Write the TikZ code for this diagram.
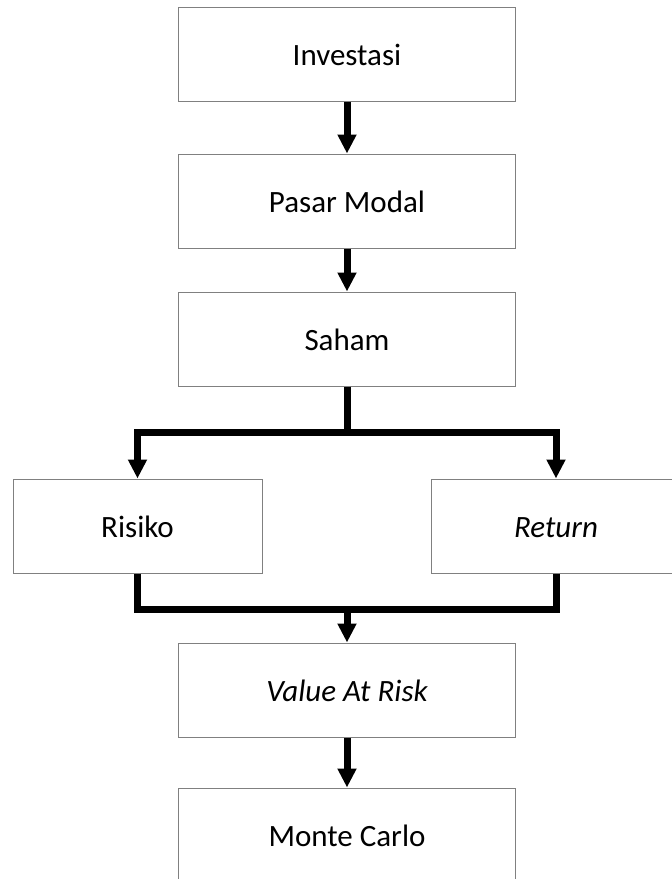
\documentclass[tikz,border=0pt]{standalone}
\usepackage{fontspec}
\setmainfont{Carlito}
\usetikzlibrary{arrows.meta,positioning}

\begin{document}
\begin{tikzpicture}[x=0.5pt,y=-0.5pt]
   \tikzstyle{box}=[draw=black!50,line width=0.5pt,fill=white,minimum width=168.5pt,minimum height=47pt,font=\fontsize{15.5}{18}\selectfont,inner sep=0pt,text height=12pt,text depth=1pt]
   \tikzstyle{sidebox}=[box,minimum width=124.5pt]
   \tikzstyle{flow}=[line width=3.5pt,-{Triangle[length=9.5pt,width=9pt]}]
   \tikzstyle{link}=[line width=3.5pt]

   \useasboundingbox (0,0) rectangle (671,879) ;

   \node (inv) [box] at (347,54) {Investasi} ;
   \node (pasar) [box,below=26pt of inv] {Pasar Modal} ;
   \node (saham) [box,below=21.5pt of pasar] {Saham} ;
   \node (risiko) [sidebox] at (137.5,526) {Risiko} ;
   \node (ret) [sidebox] at (556,526) {\itshape Return} ;
   \node (var) [box] at (347,690) {\itshape Value At Risk} ;
   \node (mc) [box,below=25pt of var] {Monte Carlo} ;

   \coordinate (split) at (347,432) ;
   \coordinate (merge) at (347,609) ;

   \draw [flow] (inv) -- (pasar) ;
   \draw [flow] (pasar) -- (saham) ;
   \draw [link] (saham.south) -- (split) ;
   \draw [flow] (split) -| (risiko.north) ;
   \draw [flow] (split) -| (ret.north) ;
   \draw [link] (risiko.south) |- (merge) ;
   \draw [link] (ret.south) |- (merge) ;
   \draw [flow] (merge) -- (var) ;
   \draw [flow] (var) -- (mc) ;
\end{tikzpicture}
\end{document}
